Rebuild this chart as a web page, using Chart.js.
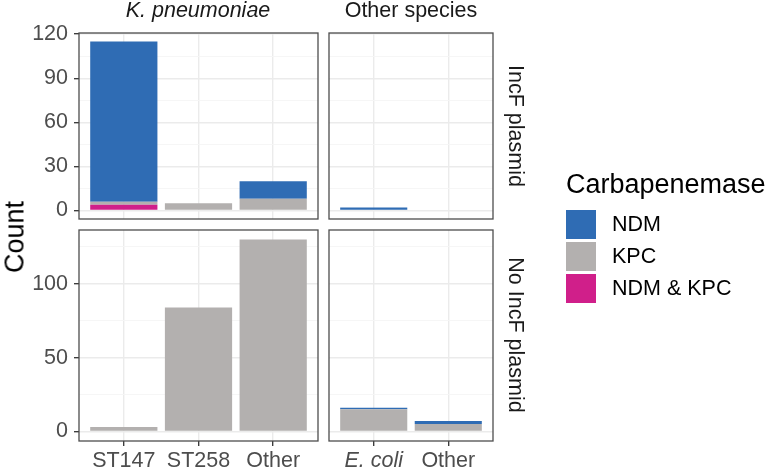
<!DOCTYPE html>
<html>
<head>
<meta charset="utf-8">
<script src="https://cdn.jsdelivr.net/npm/chart.js@4"></script>
<style>
  body { margin: 0; background: #fff; font-family: "Liberation Sans", Arial, sans-serif; }
  #wrap { position: relative; width: 771px; height: 468px; overflow: hidden; }
  #wrap canvas { position: absolute; left: 0; top: 0; }
  .txt { position: absolute; white-space: nowrap; line-height: 1; }
  .strip { font-size: 21.5px; color: #1a1a1a; }
  .key { position: absolute; width: 30px; height: 29px; }
</style>
</head>
<body>
<div id="wrap">
  <canvas id="p1" width="771" height="468"></canvas>
  <canvas id="p2" width="771" height="468"></canvas>
  <canvas id="p3" width="771" height="468"></canvas>
  <canvas id="p4" width="771" height="468"></canvas>

  <div class="txt strip" style="left:198px;top:11px;transform:translate(-50%,-50%);font-style:italic">K. pneumoniae</div>
  <div class="txt strip" style="left:411px;top:11px;transform:translate(-50%,-50%)">Other species</div>
  <div class="txt strip" style="left:515px;top:126px;transform:translate(-50%,-50%) rotate(90deg)">IncF plasmid</div>
  <div class="txt strip" style="left:515px;top:335px;transform:translate(-50%,-50%) rotate(90deg)">No IncF plasmid</div>
  <div class="txt" style="left:15px;top:237px;font-size:27px;color:#000;transform:translate(-50%,-50%) rotate(-90deg)">Count</div>

  <div id="legend"></div>
</div>
<script>
// categories
const kpCats = ["ST147", "ST258", "Other"];
const otherCats = ["E. coli", "Other"];
const italicCats = ["E. coli"];

// IncF plasmid row
const incfKpNdm = [109, 0, 12];
const incfKpKpc = [2, 5, 8];
const incfKpBoth = [4, 0, 0];
const incfOtNdm = [2, 0];
const incfOtKpc = [0, 0];
const incfOtBoth = [0, 0];

// No IncF plasmid row
const noIncfKpNdm = [0, 0, 0];
const noIncfKpKpc = [3, 84, 130];
const noIncfKpBoth = [0, 0, 0];
const noIncfOtNdm = [1, 2];
const noIncfOtKpc = [15, 5];
const noIncfOtBoth = [0, 0];

// tick labels
const incfTicks = [0, 30, 60, 90, 120];
const noIncfTicks = [0, 50, 100];

const legendLabels = ["NDM", "KPC", "NDM & KPC"];
const colNdm = "#2f6cb4";
const colKpc = "#b3b0af";
const colBoth = "#d01f8a";
const legendColours = [colNdm, colKpc, colBoth];

const FONT = "'Liberation Sans', Arial, sans-serif";

function stackMax(...rows) {
  let m = 0;
  for (let i = 0; i < rows[0].length; i++) {
    m = Math.max(m, rows.reduce((s, r) => s + r[i], 0));
  }
  return m;
}

// panel borders, like ggplot's panel.border
const borderPlugin = {
  id: "panelBorder",
  afterDraw(chart) {
    const a = chart.chartArea;
    const ctx = chart.ctx;
    ctx.save();
    ctx.strokeStyle = "#4d4d4d";
    ctx.lineWidth = 1.3;
    ctx.strokeRect(a.left, a.top, a.right - a.left, a.bottom - a.top);
    ctx.restore();
  },
};

function makePanel(id, cats, ndm, kpc, both, rowMax, majors, area, showY, showX) {
  const expand = rowMax * 0.05;
  const step = majors[1] - majors[0];
  const yMin = -expand;
  const yMax = rowMax + expand;
  const allTicks = [];
  for (let v = majors[0]; v <= yMax; v += step / 2) allTicks.push(v);

  const yw = showY ? 50 : 0;
  const xh = showX ? 27 : 0;
  const toPts = (arr) => arr.map((v, i) => ({ x: i + 1, y: v }));

  return new Chart(document.getElementById(id), {
    type: "bar",
    data: {
      datasets: [
        { label: legendLabels[2], data: toPts(both), backgroundColor: colBoth, stack: "s" },
        { label: legendLabels[1], data: toPts(kpc), backgroundColor: colKpc, stack: "s" },
        { label: legendLabels[0], data: toPts(ndm), backgroundColor: colNdm, stack: "s" },
      ],
    },
    options: {
      responsive: false,
      animation: false,
      events: [],
      categoryPercentage: 0.9,
      barPercentage: 1,
      borderWidth: 0,
      layout: {
        padding: {
          left: area.left - yw,
          top: area.top,
          right: 771 - area.right,
          bottom: 468 - area.bottom - xh,
        },
      },
      plugins: { legend: { display: false }, tooltip: { enabled: false } },
      scales: {
        x: {
          type: "linear",
          offset: false,
          min: 0.4,
          max: cats.length + 0.6,
          afterBuildTicks: (s) => { s.ticks = cats.map((c, i) => ({ value: i + 1 })); },
          afterFit: (s) => { s.height = xh; },
          border: { display: false },
          grid: {
            offset: false,
            color: "#ebebeb",
            lineWidth: 1.4,
            drawTicks: showX,
            tickLength: 5,
            tickColor: "#333333",
            tickWidth: 1.3,
          },
          ticks: {
            display: showX,
            autoSkip: false,
            maxRotation: 0,
            padding: 2,
            color: "#4d4d4d",
            font: (ctx) => ({
              family: FONT,
              size: 21.5,
              style: ctx.tick && italicCats.includes(cats[ctx.tick.value - 1]) ? "italic" : "normal",
            }),
            callback: (v) => cats[v - 1] ?? "",
          },
        },
        y: {
          stacked: true,
          min: yMin,
          max: yMax,
          afterBuildTicks: (s) => { s.ticks = allTicks.map((v) => ({ value: v })); },
          afterFit: (s) => { s.width = yw; },
          border: { display: false },
          grid: {
            color: (ctx) => (majors.includes(ctx.tick.value) ? "#ebebeb" : "#f5f5f5"),
            lineWidth: (ctx) => (majors.includes(ctx.tick.value) ? 1.4 : 0.9),
            drawTicks: showY,
            tickLength: 5,
            tickColor: (ctx) => (majors.includes(ctx.tick.value) ? "#333333" : "rgba(0,0,0,0)"),
            tickWidth: 1.3,
          },
          ticks: {
            display: showY,
            autoSkip: false,
            padding: 6,
            color: "#4d4d4d",
            font: { family: FONT, size: 21.5 },
            callback: (v) => (majors.includes(v) ? String(v) : ""),
          },
        },
      },
    },
    plugins: [borderPlugin],
  });
}

const incfMax = Math.max(
  stackMax(incfKpNdm, incfKpKpc, incfKpBoth),
  stackMax(incfOtNdm, incfOtKpc, incfOtBoth)
);
const noIncfMax = Math.max(
  stackMax(noIncfKpNdm, noIncfKpKpc, noIncfKpBoth),
  stackMax(noIncfOtNdm, noIncfOtKpc, noIncfOtBoth)
);

makePanel("p1", kpCats, incfKpNdm, incfKpKpc, incfKpBoth, incfMax, incfTicks,
  { left: 79, right: 318, top: 33, bottom: 219 }, true, false);
makePanel("p2", otherCats, incfOtNdm, incfOtKpc, incfOtBoth, incfMax, incfTicks,
  { left: 329, right: 493, top: 33, bottom: 219 }, false, false);
makePanel("p3", kpCats, noIncfKpNdm, noIncfKpKpc, noIncfKpBoth, noIncfMax, noIncfTicks,
  { left: 79, right: 318, top: 230, bottom: 441 }, true, true);
makePanel("p4", otherCats, noIncfOtNdm, noIncfOtKpc, noIncfOtBoth, noIncfMax, noIncfTicks,
  { left: 329, right: 493, top: 230, bottom: 441 }, false, true);

// legend
const legend = document.getElementById("legend");
const title = document.createElement("div");
title.className = "txt";
title.style.cssText = "left:566px;top:184px;font-size:27px;color:#000;transform:translateY(-50%)";
title.textContent = "Carbapenemase";
legend.appendChild(title);
legendLabels.forEach((lab, i) => {
  const key = document.createElement("div");
  key.className = "key";
  key.style.left = "566px";
  key.style.top = 210 + i * 32 + "px";
  key.style.background = legendColours[i];
  legend.appendChild(key);
  const t = document.createElement("div");
  t.className = "txt";
  t.style.cssText = `left:612px;top:${224.5 + i * 32}px;font-size:21.5px;color:#000;transform:translateY(-50%)`;
  t.textContent = lab;
  legend.appendChild(t);
});
</script>
</body>
</html>
